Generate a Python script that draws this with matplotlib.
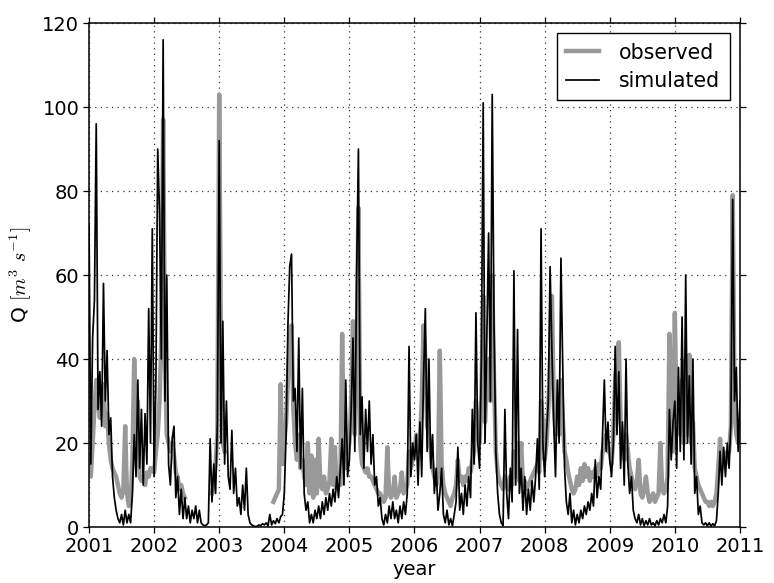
import numpy as np
import matplotlib
matplotlib.use("Agg")
import matplotlib.pyplot as plt

plt.rcParams['font.family'] = ['DejaVu Sans']
plt.rcParams['mathtext.fontset'] = 'cm'

nan = np.nan
years = list(range(2001, 2011))
steps_per_year = 36

# simulated discharge, 36 values per year (m3/s)
sim_2001 = [72, 15, 45, 54, 96, 28, 37, 24, 58, 30, 42, 22, 26, 12, 7, 4, 2, 1,
            3, 0.5, 4, 1, 3, 1, 8, 22, 12, 35, 14, 28, 10, 27, 15, 52, 20, 71]
sim_2002 = [12, 35, 90, 75, 40, 116, 30, 60, 15, 10, 21, 24, 7, 12, 3, 9, 2, 7,
            2, 5, 1, 4, 2, 5, 1, 4, 1, 0.5, 0.3, 0.5, 1, 21, 6, 15, 8, 25]
sim_2003 = [92, 20, 49, 15, 30, 12, 9, 23, 8, 14, 5, 7, 3, 10, 4, 14, 3, 1,
            0.5, 0.3, 0.1, 0.2, 0.5, 0.3, 0.8, 0.5, 1.0, 0.3, 3, 0.5, 1.5, 0.8, 2, 1, 2.5, 3]
sim_2004 = [8, 22, 48, 62, 65, 30, 33, 18, 45, 14, 33, 8, 4, 6, 1, 3, 1, 4,
            2, 5, 2, 6, 3, 7, 4, 8, 5, 9, 6, 12, 7, 14, 21, 10, 35, 12]
sim_2005 = [16, 28, 45, 18, 60, 90, 22, 31, 14, 28, 18, 30, 15, 22, 10, 12, 5, 7,
            2, 0.5, 3, 1, 5, 2, 6, 2, 4, 1, 5, 2, 6, 3, 8, 43, 12, 20]
sim_2006 = [16, 22, 10, 25, 12, 35, 52, 18, 40, 14, 22, 8, 14, 4, 8, 14, 3, 1,
            4, 0.5, 2, 0.3, 3, 6, 19, 4, 8, 3, 10, 5, 12, 7, 28, 15, 51, 20]
sim_2007 = [14, 40, 101, 20, 45, 70, 30, 103, 48, 18, 8, 3, 1, 0.3, 28, 8, 2, 14,
            6, 61, 10, 47, 8, 14, 4, 12, 3, 9, 4, 11, 6, 12, 21, 9, 71, 20]
sim_2008 = [12, 22, 30, 62, 42, 25, 12, 35, 20, 64, 38, 14, 6, 3, 8, 1, 4, 0.5,
            3, 1, 4, 2, 5, 3, 6, 4, 8, 5, 16, 7, 12, 9, 22, 35, 18, 25]
sim_2009 = [16, 12, 20, 43, 22, 37, 14, 25, 10, 40, 15, 8, 12, 4, 2, 1, 3, 0.5,
            2, 0.3, 1.5, 0.5, 2, 0.5, 1, 0.3, 1.5, 0.5, 2, 1, 3, 1, 5, 28, 16, 25]
sim_2010 = [30, 14, 38, 18, 50, 16, 60, 20, 36, 15, 40, 8, 12, 3, 5, 1, 0.5, 1,
            0.3, 1, 0.2, 0.8, 0.3, 1.5, 8, 18, 10, 19, 12, 20, 14, 25, 78, 30, 38, 18]
sim_end = 30

# observed discharge (gaps = missing records)
obs_2001 = [14, 12, 20, 28, 35, 30, 26, 30, 34, 24, 27, 20, 16, 14, 13, 12, 10, 8,
            7, 9, 24, 8, 5, 6, 16, 40, 20, 30, 12, 11, 12, 10, 13, 12, 14, 14]
obs_2002 = [13, 18, 22, 30, 45, 97, 40, 22, 20, 18, 20, 17, 13, 12, 9, 10, 8, 7,
            nan, nan, nan, nan, nan, nan, nan, nan, nan, nan, nan, nan, nan, nan, 8, 10, 15, 22]
obs_2003 = [103, 40, 20, 18, nan, nan, nan, nan, nan, nan, nan, nan, nan, nan, nan, nan, nan, nan,
            nan, nan, nan, nan, nan, nan, nan, nan, nan, nan, nan, nan, 6, 7, 8, 9, 34, 15]
obs_2004 = [20, 25, 35, 45, 48, 28, 20, 16, 22, 14, 16, 12, 10, 20, 8, 17, 7, 16,
            8, 21, 10, 9, 12, 8, 9, 11, 21, 10, 19, 9, 12, 10, 46, 16, 14, 18]
obs_2005 = [20, 30, 49, 22, 40, 76, 20, 15, 14, 13, 14, 12, 12, 11, 10, 9, 8, 8,
            7, 6, 7, 19, 8, 7, 8, 12, 7, 8, 9, 13, 8, 9, 10, 18, 14, 16]
obs_2006 = [18, 22, 18, 20, 30, 48, 40, 24, 22, 18, 14, 12, 10, 12, 42, 15, 10, 8,
            7, 6, 5, 7, 8, 10, 16, 11, 12, 10, 12, 11, 14, 13, 16, 18, 30, 22]
obs_2007 = [20, 30, 55, 25, 35, 40, 30, 60, 35, 18, 13, 11, 10, 9, 12, 10, 9, 12,
            10, 18, 12, 20, 11, 20, 10, 11, 9, 10, 11, 12, 13, 14, 15, 13, 30, 25]
obs_2008 = [16, 20, 28, 40, 55, 30, 22, 25, 22, 35, 26, 18, 16, 13, 11, 9, 8, 9,
            12, 10, 14, 11, 15, 12, 14, 11, 13, 12, 14, 12, 15, 14, 18, 20, 22, 18]
obs_2009 = [18, 15, 22, 35, 40, 44, 25, 22, 16, 22, 18, 14, 12, 10, 9, 11, 16, 8,
            7, 9, 12, 8, 6, 7, 8, 6, 7, 8, 20, 9, 8, 9, 12, 46, 30, 18]
obs_2010 = [51, 25, 30, 22, 35, 20, 40, 22, 41, 20, 25, 14, 12, 10, 9, 8, 7, 6,
            6, 5, 6, 5, 6, 8, 14, 21, 14, 18, 15, 17, 18, 24, 79, 28, 22, 20]
obs_end = 25

sim_years = [sim_2001, sim_2002, sim_2003, sim_2004, sim_2005,
             sim_2006, sim_2007, sim_2008, sim_2009, sim_2010]
obs_years = [obs_2001, obs_2002, obs_2003, obs_2004, obs_2005,
             obs_2006, obs_2007, obs_2008, obs_2009, obs_2010]

t = np.concatenate([y + np.arange(steps_per_year) / steps_per_year for y in years] + [[2011.0]])
sim = np.array(sum(sim_years, []) + [sim_end], dtype=float)
obs = np.array(sum(obs_years, []) + [obs_end], dtype=float)

fig = plt.figure(figsize=(7.74, 5.83), dpi=100)
ax = fig.add_axes([0.115, 0.096, 0.841, 0.8645])

ax.plot(t, obs, color='#999999', lw=3.2, label='observed', zorder=2)
ax.plot(t, sim, color='black', lw=1.25, label='simulated', zorder=3)

ax.set_xlim(2001, 2011)
ax.set_ylim(0, 120)
ax.set_xticks(range(2001, 2012))
ax.set_xticklabels([str(y) for y in range(2001, 2012)])
ax.set_yticks(range(0, 121, 20))

ax.grid(True, color='#333333', linestyle=(0, (1, 3.5)), linewidth=0.9)
ax.tick_params(direction='out', length=4, width=0.9, labelsize=14,
               top=True, right=True, pad=3)
for s in ax.spines.values():
    s.set_linewidth(1.1)

ax.set_xlabel('year', fontsize=14, labelpad=3)
ax.set_ylabel(r'Q $[m^3\ s^{-1}]$', fontsize=14.5, labelpad=6)

leg = ax.legend(loc='upper right', fontsize=14.8, fancybox=False, framealpha=1,
                edgecolor='black', handlelength=1.6, handletextpad=1.0,
                borderpad=0.45, labelspacing=0.4, borderaxespad=0.5)
leg.get_frame().set_linewidth(1.0)

fig.savefig('out.png', dpi=100)
